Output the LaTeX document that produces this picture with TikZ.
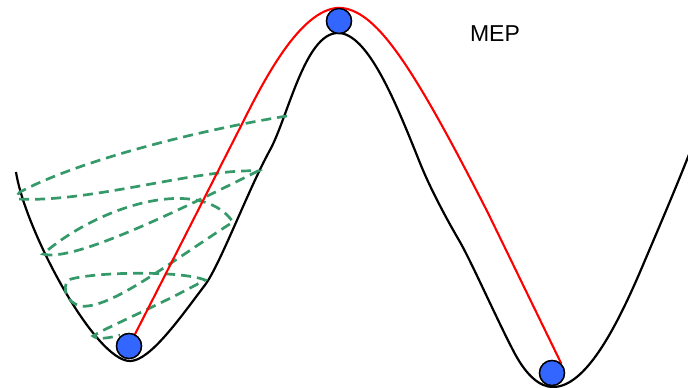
\documentclass[tikz,border=0pt]{standalone}
\usepackage{fontspec}
\setmainfont{Liberation Sans}
\usetikzlibrary{arrows.meta, positioning}
\definecolor{ballblue}{HTML}{3366FF}
\definecolor{nebgreen}{HTML}{35996A}
\definecolor{mepred}{HTML}{FF0000}

\begin{document}
\begin{tikzpicture}[
    x=1pt, y=-1pt,
    every node/.style={font=\fontsize{23}{27}\selectfont},
    surface/.style={line width=2.2pt, black},
    mep/.style={line width=2.1pt, mepred},
    band/.style={line width=2.7pt, nebgreen, dash pattern=on 10pt off 6pt},
    ball/.style={circle, draw=black, line width=1.4pt, fill=ballblue,
                 minimum size=25pt, inner sep=0pt},
  ]
  \useasboundingbox (0,0) rectangle (688,388);

  % energy landscape
  \draw[surface] (16,172) .. controls (25,230) and (95,361) .. (130,361)
    .. controls (150,361) and (180,318) .. (205,285)
    .. controls (220,265) and (248,190) .. (270,150)
    .. controls (288,117) and (305,33) .. (338,33)
    .. controls (368,33) and (396,103) .. (420,163)
    .. controls (430,188) and (446,218) .. (460,242)
    .. controls (472,263) and (498,322) .. (515,354)
    .. controls (527,376) and (540,387) .. (553,387)
    .. controls (585,387) and (615,330) .. (640,272)
    .. controls (660,225) and (675,190) .. (690,152);

  % elastic band iterations
  \draw[band] (287,116) .. controls (200,130) and (80,160) .. (20,192)
    .. controls (17,195) and (16,198) .. (18,199)
    .. controls (90,203) and (200,168) .. (258,171)
    .. controls (160,220) and (70,262) .. (43,254)
    .. controls (100,205) and (200,175) .. (233,222)
    .. controls (170,262) and (110,310) .. (80,306)
    .. controls (66,302) and (62,288) .. (68,280)
    .. controls (90,272) and (180,270) .. (205,280)
    .. controls (160,305) and (105,328) .. (93,336)
    .. controls (97,340) and (110,338) .. (120,335);

  % minimum energy path
  \node[ball] (reac) at (129,346) {};
  \node[ball] (ts) at (339,21) {};
  \node[ball] (prod) at (552,373) {};
  \coordinate (ra) at (242,124);
  \coordinate (rb) at (488,213);
  \draw[mep] (reac.center) -- (ra)
    .. controls (263,82) and (300,9) .. (ts.north)
    .. controls (375,9) and (410,60) .. (rb)
    -- (prod.north east);
  \node[ball] at (reac) {};
  \node[ball] at (ts) {};
  \node[ball] at (prod) {};

  \node (lbl) at (495,34) {MEP};
\end{tikzpicture}
\end{document}
